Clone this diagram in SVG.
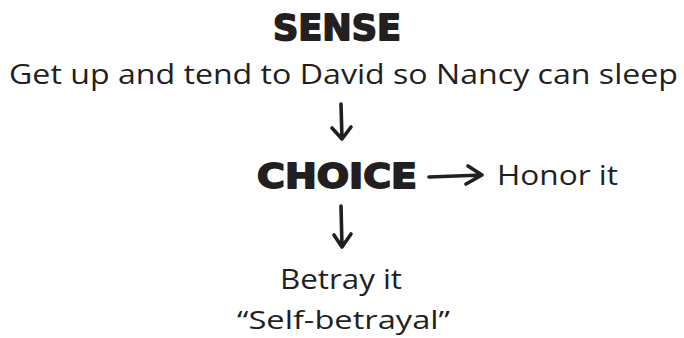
<svg xmlns="http://www.w3.org/2000/svg" width="684" height="338" viewBox="0 0 684 338">
<defs>
<style>
.hd{font-family:"DejaVu Sans","Liberation Sans",sans-serif;font-weight:bold;fill:#231f20;stroke:#231f20;stroke-width:1.8;stroke-linejoin:round}
.tx{font-family:"Open Sans","Liberation Sans",sans-serif;font-weight:400;fill:#231f20}
.ar{fill:none;stroke:#231f20;stroke-width:3.6;stroke-linecap:round;stroke-linejoin:round}
</style>
</defs>
<rect width="684" height="338" fill="#fff"/>
<g id="sense">
<text class="hd" x="273" y="40" font-size="36" textLength="128" lengthAdjust="spacingAndGlyphs">SENSE</text>
</g>
<g id="sense-text">
<text class="tx" x="9" y="84" font-size="27" textLength="669" lengthAdjust="spacingAndGlyphs">Get up and tend to David so Nancy can sleep</text>
</g>
<g id="choice">
<text class="hd" x="257" y="188" font-size="34" textLength="160" lengthAdjust="spacingAndGlyphs">CHOICE</text>
</g>
<g id="honor">
<text class="tx" x="497" y="185" font-size="27" textLength="121" lengthAdjust="spacingAndGlyphs">Honor it</text>
</g>
<g id="betray">
<text class="tx" x="280" y="289" font-size="27" textLength="122" lengthAdjust="spacingAndGlyphs">Betray it</text>
<text class="tx" x="237" y="329" font-size="26" textLength="213" lengthAdjust="spacingAndGlyphs">“Self-betrayal”</text>
</g>
<g id="connectors">
<path class="ar" d="M341 104 L342 139 M332 128 L342 139 L351 127"/>
<path class="ar" d="M429 177 L482 175 M468 166 L482 175 L466 184"/>
<path class="ar" d="M341 206 L342 247 M334 235 L342 247 L351 234"/>
</g>
</svg>
